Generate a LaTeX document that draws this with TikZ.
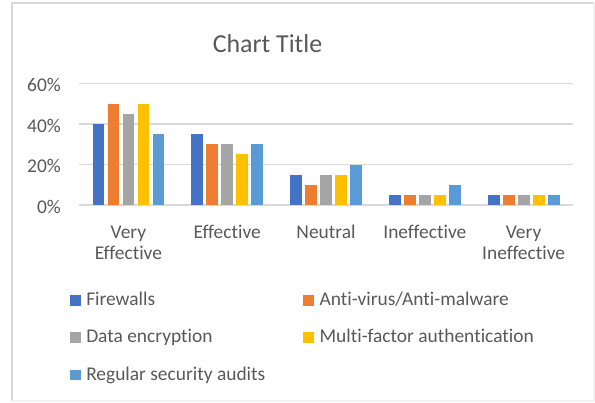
\documentclass[tikz,border=0pt]{standalone}
\usepackage{fontspec}
\setmainfont{Carlito}[Ligatures=NoCommon]
\usetikzlibrary{positioning}

\definecolor{fwblue}{HTML}{4472C4}
\definecolor{avorange}{HTML}{ED7D31}
\definecolor{encgray}{HTML}{A5A5A5}
\definecolor{mfayellow}{HTML}{FFC000}
\definecolor{audblue}{HTML}{5B9BD5}
\definecolor{gridgray}{HTML}{D9D9D9}
\definecolor{labelgray}{HTML}{595959}

\tikzset{
  gridline/.style={draw=gridgray, line width=1.5bp},
  frameline/.style={draw=gridgray, line width=1.5bp},
  chartlabel/.style={inner sep=0pt, text=labelgray, font=\fontsize{19.5}{21.6}\selectfont},
  ticklabel/.style={chartlabel, anchor=east},
  catlabel/.style={chartlabel, align=center},
  legendbox/.style={minimum size=10.5bp, inner sep=0pt, outer sep=0pt},
  legendtext/.style={chartlabel, anchor=base west},
}

\begin{document}
\begin{tikzpicture}[x=1bp, y=-1bp]
  \useasboundingbox (0,0) rectangle (595,402);
  \fill[white] (0,0) rectangle (595,402);

  % chart area border
  \draw[frameline] (12,401) |- (594,3);
  \draw[frameline, draw=gridgray!35] (12,401) -| (594,3);

  \node[inner sep=0pt, text=labelgray, font=\fontsize{26}{30}\selectfont]
    (title) at (267.5,44) {Chart Title};

  % value axis
  \draw[gridline] (79,205) -- (573,205);
  \draw[gridline] (79,164.5) -- (573,164.5);
  \draw[gridline] (79,124) -- (573,124);
  \draw[gridline] (79,83.5) -- (573,83.5);
  \node[ticklabel] (p0) at (61,206.5) {0\%};
  \node[ticklabel] (p20) at (61,166) {20\%};
  \node[ticklabel] (p40) at (61,125.5) {40\%};
  \node[ticklabel] (p60) at (61,85) {60\%};

  % bars, heights in percent
  \begin{scope}[shift={(0,205)}, y=2.025bp]
    \begin{scope}[xshift=128.4bp]
      \fill[fwblue] (-35.8,0) rectangle ++(11.7,40);
      \fill[avorange] (-20.8,0) rectangle ++(11.7,50);
      \fill[encgray] (-5.8,0) rectangle ++(11.7,45);
      \fill[mfayellow] (9.2,0) rectangle ++(11.7,50);
      \fill[audblue] (24.2,0) rectangle ++(11.7,35);
    \end{scope}
    \begin{scope}[xshift=227.2bp]
      \fill[fwblue] (-35.8,0) rectangle ++(11.7,35);
      \fill[avorange] (-20.8,0) rectangle ++(11.7,30);
      \fill[encgray] (-5.8,0) rectangle ++(11.7,30);
      \fill[mfayellow] (9.2,0) rectangle ++(11.7,25);
      \fill[audblue] (24.2,0) rectangle ++(11.7,30);
    \end{scope}
    \begin{scope}[xshift=326bp]
      \fill[fwblue] (-35.8,0) rectangle ++(11.7,15);
      \fill[avorange] (-20.8,0) rectangle ++(11.7,10);
      \fill[encgray] (-5.8,0) rectangle ++(11.7,15);
      \fill[mfayellow] (9.2,0) rectangle ++(11.7,15);
      \fill[audblue] (24.2,0) rectangle ++(11.7,20);
    \end{scope}
    \begin{scope}[xshift=424.8bp]
      \fill[fwblue] (-35.8,0) rectangle ++(11.7,5);
      \fill[avorange] (-20.8,0) rectangle ++(11.7,5);
      \fill[encgray] (-5.8,0) rectangle ++(11.7,5);
      \fill[mfayellow] (9.2,0) rectangle ++(11.7,5);
      \fill[audblue] (24.2,0) rectangle ++(11.7,10);
    \end{scope}
    \begin{scope}[xshift=523.6bp]
      \fill[fwblue] (-35.8,0) rectangle ++(11.7,5);
      \fill[avorange] (-20.8,0) rectangle ++(11.7,5);
      \fill[encgray] (-5.8,0) rectangle ++(11.7,5);
      \fill[mfayellow] (9.2,0) rectangle ++(11.7,5);
      \fill[audblue] (24.2,0) rectangle ++(11.7,5);
    \end{scope}
  \end{scope}

  % category axis
  \node[catlabel] (veryeff) at (128.4,243) {Very\\Effective};
  \node[catlabel] (eff) at (227.2,231.7) {Effective};
  \node[catlabel] (neutral) at (326,231.7) {Neutral};
  \node[catlabel] (ineff) at (424.8,231.7) {Ineffective};
  \node[catlabel] (veryineff) at (523.6,243) {Very\\Ineffective};

  % legend
  \node[legendbox, fill=fwblue] (kfw) at (75.3,300.3) {};
  \node[legendbox, fill=avorange] (kav) at (308.6,300.3) {};
  \node[legendbox, fill=encgray] (kenc) at (75.3,337.6) {};
  \node[legendbox, fill=mfayellow] (kmfa) at (308.6,337.6) {};
  \node[legendbox, fill=audblue] (kaud) at (75.3,375) {};
  \node[right=5.5bp of kfw.south east, legendtext] (tfw) {Firewalls};
  \node[right=5.5bp of kav.south east, legendtext] (tav) {Anti-virus/Anti-malware};
  \node[right=5.5bp of kenc.south east, legendtext] (tenc) {Data encryption};
  \node[right=5.5bp of kmfa.south east, legendtext] (tmfa) {Multi-factor authentication};
  \node[right=5.5bp of kaud.south east, legendtext] (taud) {Regular security audits};
\end{tikzpicture}
\end{document}
